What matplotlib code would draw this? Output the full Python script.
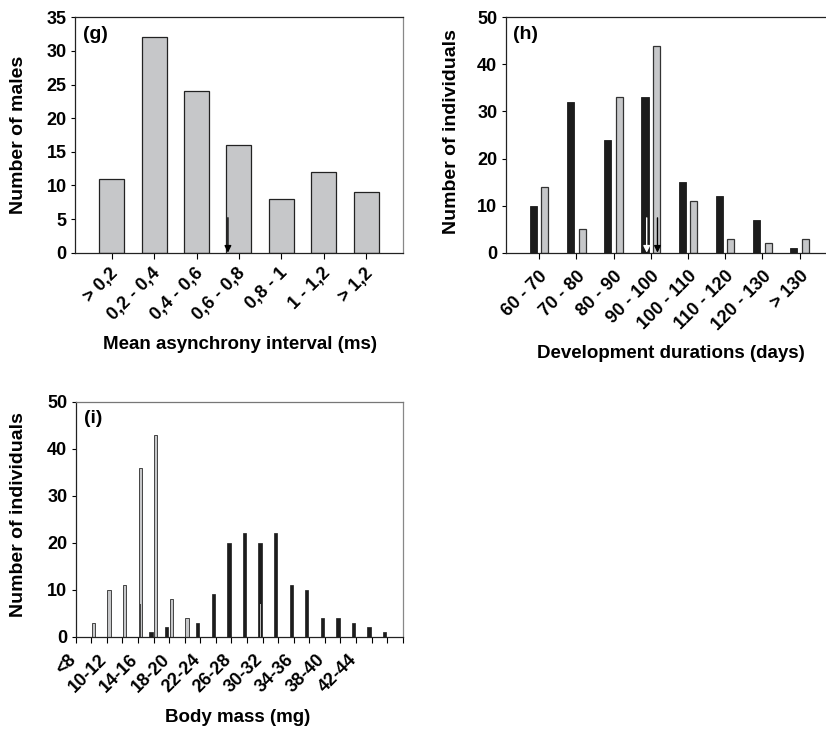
import matplotlib
matplotlib.use("Agg")
import matplotlib.pyplot as plt
import matplotlib.transforms as mtransforms
import numpy as np

plt.rcParams['font.family'] = ['Liberation Sans', 'DejaVu Sans']
plt.rcParams['font.weight'] = 'bold'

# (g) mean asynchrony interval
g_labels = ['> 0,2', '0,2 - 0,4', '0,4 - 0,6', '0,6 - 0,8', '0,8 - 1', '1 - 1,2', '> 1,2']
g_counts = [11, 32, 24, 16, 8, 12, 9]
g_mean = 2.74

# (h) development durations
h_labels = ['60 - 70', '70 - 80', '80 - 90', '90 - 100', '100 - 110',
            '110 - 120', '120 - 130', '> 130']
h_dark = [10, 32, 24, 33, 15, 12, 7, 1]
h_gray = [14, 5, 33, 44, 11, 3, 2, 3]
h_mean_dark = 2.89
h_mean_gray = 3.18

# (i) body mass
i_bins = ['<8', '8-10', '10-12', '12-14', '14-16', '16-18', '18-20', '20-22',
          '22-24', '24-26', '26-28', '28-30', '30-32', '32-34', '34-36',
          '36-38', '38-40', '40-42', '42-44', '44-46', '46-48']
i_shown = ['<8', '10-12', '14-16', '18-20', '22-24', '26-28', '30-32',
           '34-36', '38-40', '42-44']
i_gray = [0, 3, 10, 11, 36, 43, 8, 4, 0, 0, 0, 0, 0, 0, 0, 0, 0, 0, 0, 0, 0]
i_dark = [0, 0, 0, 0, 1, 2, 0, 3, 9, 20, 22, 20, 22, 11, 10, 4, 4, 3, 2, 1, 0]
i_dark_under = [0, 0, 0, 0, 7, 0, 0, 0, 0, 0, 0, 0, 0, 0, 0, 0, 0, 0, 0, 0, 0]
i_gray_under = [0, 0, 0, 0, 0, 0, 0, 0, 0, 0, 0, 7, 0, 0, 0, 0, 0, 0, 0, 0, 0]

GRAY = '#c6c7c9'
DARK = '#1c1c1c'
W, H = 826, 732

fig = plt.figure(figsize=(W / 100, H / 100), dpi=100)


def box(l, t, r, b):
    return [l / W, 1 - b / H, (r - l) / W, (b - t) / H]


def style(ax):
    for s in ax.spines.values():
        s.set_linewidth(0.9)
        s.set_color('#222222')
    ax.tick_params(axis='y', direction='out', length=3, width=0.8, pad=3,
                   labelsize=13)
    ax.tick_params(axis='x', direction='out', length=4, width=0.8,
                   labelsize=13)


def slant(labels, dx):
    off = mtransforms.ScaledTranslation(dx / 100, 0, fig.dpi_scale_trans)
    for lab in labels:
        lab.set_rotation(45)
        lab.set_ha('right')
        lab.set_va('center')
        lab.set_rotation_mode('anchor')
        lab.set_transform(lab.get_transform() + off)


# ---- (g)
ax = fig.add_axes(box(75, 17.3, 402.7, 252.7))
x = np.arange(len(g_counts))
ax.bar(x, g_counts, width=0.59, color=GRAY, edgecolor='#222222', linewidth=0.9)
ax.set_xlim(-0.865, 6.86)
ax.set_ylim(0, 35)
ax.set_yticks(range(0, 36, 5))
ax.set_xticks(x, g_labels)
style(ax)
ax.spines['right'].set_color('#888888')
ax.tick_params(axis='x', pad=9)
slant(ax.get_xticklabels(), 4)
ax.annotate('', xy=(g_mean, 0), xytext=(g_mean, 5.2),
            arrowprops=dict(arrowstyle='-|>', color='black', lw=1,
                            mutation_scale=10, shrinkA=0, shrinkB=0))
ax.text(0.023, 0.965, '(g)', transform=ax.transAxes, fontsize=14,
        fontweight='bold', va='top')
fig.text(19 / W, 1 - 135 / H, 'Number of males', rotation=90, ha='center',
         va='center', fontsize=14, fontweight='bold')
fig.text(240 / W, 1 - 344 / H, 'Mean asynchrony interval (ms)', ha='center',
         va='center', fontsize=13.5, fontweight='bold')

# ---- (h)
ax = fig.add_axes(box(505.7, 17.3, 826, 252.7))
x = np.arange(len(h_dark))
ax.bar(x - 0.155, h_dark, width=0.19, color=DARK, edgecolor=DARK, linewidth=0.6)
ax.bar(x + 0.155, h_gray, width=0.19, color=GRAY, edgecolor='#333333',
       linewidth=0.9)
ax.set_xlim(-0.9, 7.71)
ax.set_ylim(0, 50)
ax.set_yticks(range(0, 51, 10))
ax.set_xticks(x, h_labels)
style(ax)
ax.spines['right'].set_visible(False)
ax.tick_params(axis='x', pad=11)
slant(ax.get_xticklabels(), 6)
ax.annotate('', xy=(h_mean_dark, 0), xytext=(h_mean_dark, 7.4),
            arrowprops=dict(arrowstyle='-|>', color='white', lw=1,
                            mutation_scale=10, shrinkA=0, shrinkB=0))
ax.annotate('', xy=(h_mean_gray, 0), xytext=(h_mean_gray, 7.4),
            arrowprops=dict(arrowstyle='-|>', color='black', lw=1,
                            mutation_scale=10, shrinkA=0, shrinkB=0))
ax.text(0.024, 0.965, '(h)', transform=ax.transAxes, fontsize=14,
        fontweight='bold', va='top')
fig.text(451 / W, 1 - 132 / H, 'Number of individuals', rotation=90,
         ha='center', va='center', fontsize=14, fontweight='bold')
fig.text(671 / W, 1 - 354 / H, 'Development durations (days)', ha='center',
         va='center', fontsize=13.5, fontweight='bold')

# ---- (i)
ax = fig.add_axes(box(75.7, 401.7, 402.7, 636.7))
c = np.arange(len(i_bins)) + 0.5
ax.bar(c - 0.36, i_gray, width=0.21, color=GRAY, edgecolor='#444444',
       linewidth=0.7)
ax.bar(c - 0.36, i_dark_under, width=0.08, color='#444444', linewidth=0)
ax.bar(c + 0.34, i_dark, width=0.21, color=DARK, edgecolor=DARK, linewidth=0.5)
ax.bar(c + 0.34, i_gray_under, width=0.06, color='#bbbbbb', linewidth=0)
ax.set_xlim(0, len(i_bins))
ax.set_ylim(0, 50)
ax.set_yticks(range(0, 51, 10))
ax.set_xticks(range(len(i_bins) + 1), [''] * (len(i_bins) + 1))
ax.set_xticks(c[0:len(i_shown) * 2:2], i_shown, minor=True)
style(ax)
ax.spines['right'].set_color('#888888')
ax.spines['top'].set_color('#777777')
ax.tick_params(axis='x', which='minor', length=0, pad=15, labelsize=13)
slant(ax.get_xticklabels(minor=True), -10)
ax.text(0.024, 0.965, '(i)', transform=ax.transAxes, fontsize=14,
        fontweight='bold', va='top')
fig.text(19 / W, 1 - 515 / H, 'Number of individuals', rotation=90,
         ha='center', va='center', fontsize=14, fontweight='bold')
fig.text(238 / W, 1 - 718 / H, 'Body mass (mg)', ha='center', va='center',
         fontsize=13.5, fontweight='bold')

fig.savefig('out.png', dpi=100)
